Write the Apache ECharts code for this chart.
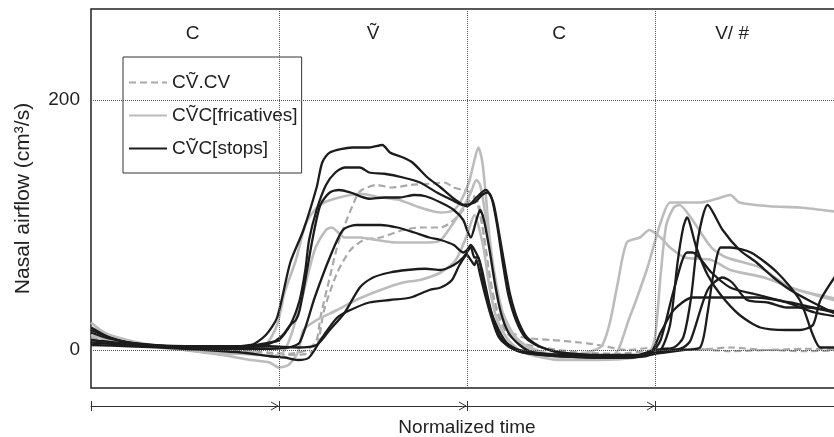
<!DOCTYPE html>
<html><head><meta charset="utf-8">
<script src="https://cdn.jsdelivr.net/npm/echarts@6/dist/echarts.min.js"></script>
<style>html,body{margin:0;padding:0;background:#fff}#c{width:834px;height:437px}</style>
</head><body><div id="c"></div>
<script>
// ---- labels / ticks ----
const segmentLabels = ['C', 'Ṽ', 'C', 'V/ #'];
const segmentLabelPos = [0.54, 1.5, 2.49, 3.41];
const yTickValues = [0, 200];
const boundaryTimes = [1, 2, 3];
const seriesNames = ['CṼ.CV', 'CṼC[fricatives]', 'CṼC[stops]'];

// ---- CV.CV (dashed grey) ----
const cvcvA = [[0,10],[0.1,7],[0.2,5],[0.5,2],[0.8,0],[0.95,-2],[1.05,-3],[1.15,0],[1.2,8],[1.22,26],[1.27,58],[1.32,88],[1.41,122],[1.44,128],[1.52,132],[1.6,130],[1.7,132],[1.8,133],[1.88,134],[1.93,130],[1.98,128],[2.02,126],[2.05,120],[2.08,100],[2.11,70],[2.14,44],[2.18,24],[2.24,14],[2.3,10],[2.45,8],[2.6,6],[2.7,4],[2.85,0],[3.0,2],[3.2,0],[3.4,2],[3.6,0],[3.8,1],[4.0,0]];
const cvcvB = [[0,8],[0.2,5],[0.4,3],[0.7,0],[0.9,-2],[1.05,-4],[1.15,-3],[1.2,2],[1.24,32],[1.31,62],[1.38,80],[1.45,88],[1.54,90],[1.66,96],[1.75,98],[1.86,98],[1.93,104],[1.99,114],[2.03,122],[2.06,118],[2.09,92],[2.12,58],[2.16,30],[2.21,14],[2.28,6],[2.4,2],[2.6,-2],[2.8,-3],[3.0,0],[3.2,1],[3.4,-1],[3.6,0],[3.8,-1],[4.0,0]];

// ---- CVC fricatives (solid light grey) ----
const fricA = [[0,22],[0.05,16],[0.15,8],[0.3,3],[0.5,0],[0.7,-3],[0.85,-2],[0.93,4],[0.99,20],[1.03,46],[1.09,72],[1.14,100],[1.19,112],[1.24,118],[1.32,122],[1.43,125],[1.54,122],[1.64,120],[1.75,114],[1.86,110],[1.93,112],[1.97,120],[2.01,134],[2.04,152],[2.06,162],[2.08,152],[2.1,124],[2.12,90],[2.15,58],[2.19,30],[2.25,12],[2.32,3],[2.45,-3],[2.6,-3],[2.68,0],[2.72,4],[2.76,22],[2.8,52],[2.85,86],[2.92,90],[2.97,96],[3.03,90],[3.08,82],[3.16,74],[3.3,72],[3.4,64],[3.58,58],[3.76,48],[4.0,38]];
const fricB = [[0,12],[0.15,6],[0.4,2],[0.7,-2],[0.9,-4],[0.97,-5],[1.02,-2],[1.06,10],[1.12,40],[1.19,80],[1.25,96],[1.28,98],[1.35,90],[1.43,90],[1.52,88],[1.62,86],[1.72,86],[1.8,86],[1.86,88],[1.92,100],[1.98,114],[2.02,126],[2.05,136],[2.07,132],[2.1,106],[2.13,72],[2.16,44],[2.2,22],[2.26,8],[2.34,0],[2.5,-6],[2.7,-6],[2.78,-4],[2.81,2],[2.86,24],[2.9,40],[2.96,66],[3.03,102],[3.08,118],[3.13,118],[3.24,118],[3.33,121],[3.4,124],[3.45,118],[3.61,115],[3.77,114],[4.0,110]];
const fricC = [[0,18],[0.1,12],[0.25,6],[0.5,0],[0.7,-4],[0.85,-8],[0.95,-10],[1.0,-14],[1.05,-12],[1.1,-2],[1.13,16],[1.2,24],[1.31,32],[1.41,40],[1.54,48],[1.66,54],[1.75,56],[1.86,62],[1.94,72],[2.0,92],[2.04,108],[2.06,100],[2.09,80],[2.12,50],[2.16,24],[2.22,8],[2.3,-2],[2.5,-8],[2.7,-8],[2.9,-6],[2.97,-2],[3.0,10],[3.03,60],[3.06,100],[3.1,114],[3.13,116],[3.19,106],[3.3,82],[3.38,74],[3.56,66],[3.72,50],[4.0,40]];

// ---- CVC stops (black) ----
const stopsA = [[0,14],[0.1,9],[0.3,4],[0.6,2],[0.85,4],[0.93,12],[0.99,26],[1.06,70],[1.13,96],[1.2,130],[1.23,150],[1.27,158],[1.39,162],[1.48,162],[1.55,164],[1.59,158],[1.66,154],[1.71,150],[1.79,138],[1.86,130],[1.94,120],[2.0,115],[2.05,122],[2.1,128],[2.13,122],[2.16,100],[2.19,70],[2.22,44],[2.26,24],[2.31,10],[2.38,3],[2.5,-2],[2.7,-4],[2.9,-4],[3.0,0],[3.1,2],[3.15,10],[3.19,40],[3.23,90],[3.28,116],[3.36,96],[3.45,80],[3.54,70],[3.63,58],[3.72,48],[3.84,38],[4.0,26]];
const stopsB = [[0,18],[0.1,10],[0.25,5],[0.5,3],[0.8,3],[0.95,6],[1.0,8],[1.06,20],[1.11,40],[1.14,64],[1.16,88],[1.2,112],[1.25,132],[1.3,142],[1.35,146],[1.43,146],[1.48,142],[1.56,141],[1.66,138],[1.75,134],[1.84,126],[1.92,120],[1.98,116],[2.04,118],[2.08,124],[2.11,126],[2.14,118],[2.17,94],[2.2,68],[2.23,44],[2.27,24],[2.32,10],[2.4,2],[2.55,-4],[2.75,-5],[2.9,-5],[2.98,-2],[3.03,8],[3.1,48],[3.17,78],[3.2,78],[3.3,62],[3.4,50],[3.55,44],[3.7,38],[3.85,30],[4.0,26]];
const stopsC = [[0,8],[0.2,5],[0.5,2],[0.8,2],[0.95,5],[1.02,12],[1.06,20],[1.09,24],[1.11,32],[1.14,56],[1.18,90],[1.22,116],[1.27,126],[1.32,128],[1.38,126],[1.48,121],[1.56,122],[1.64,122],[1.72,124],[1.78,123],[1.86,118],[1.93,112],[1.98,104],[2.0,96],[2.02,90],[2.05,104],[2.07,112],[2.09,104],[2.12,80],[2.15,52],[2.18,30],[2.22,14],[2.28,4],[2.35,-2],[2.5,-4],[2.7,-6],[2.88,-6],[2.96,-4],[3.05,-2],[3.15,0],[3.24,2],[3.28,30],[3.31,60],[3.35,82],[3.4,82],[3.51,78],[3.65,62],[3.77,40],[3.84,12],[3.88,2],[4.0,2]];
const stopsD = [[0,6],[0.3,3],[0.6,1],[0.9,1],[1.05,2],[1.11,6],[1.19,42],[1.27,74],[1.34,96],[1.41,100],[1.54,100],[1.63,98],[1.72,94],[1.8,90],[1.86,88],[1.93,84],[1.98,78],[2.0,80],[2.02,84],[2.04,80],[2.06,74],[2.08,64],[2.1,50],[2.13,30],[2.17,12],[2.22,3],[2.3,-2],[2.5,-5],[2.75,-6],[2.95,-5],[3.0,-2],[3.1,0],[3.15,2],[3.19,8],[3.28,48],[3.36,58],[3.41,54],[3.49,40],[3.6,38],[3.7,34],[3.81,34],[4.0,28]];
const stopsE = [[0,16],[0.1,10],[0.2,6],[0.4,3],[0.7,2],[0.95,3],[1.1,2],[1.2,4],[1.27,16],[1.35,30],[1.43,50],[1.5,58],[1.59,62],[1.68,64],[1.78,65],[1.86,64],[1.93,68],[1.98,74],[2.02,82],[2.04,74],[2.06,74],[2.08,60],[2.11,40],[2.15,22],[2.21,6],[2.28,0],[2.5,-4],[2.8,-5],[2.97,-3],[3.03,14],[3.1,32],[3.2,42],[3.36,42],[3.54,42],[3.72,38],[3.84,34],[4.0,30]];
const stopsF = [[0,4],[0.2,3],[0.5,1],[0.8,-2],[0.95,-5],[1.03,-6],[1.1,-8],[1.16,-6],[1.23,10],[1.31,26],[1.38,32],[1.48,38],[1.59,40],[1.7,42],[1.8,48],[1.86,50],[1.92,56],[1.96,68],[2.0,76],[2.02,72],[2.04,68],[2.05,72],[2.07,60],[2.1,42],[2.13,26],[2.17,10],[2.23,2],[2.3,-2],[2.5,-5],[2.8,-6],[2.97,-4],[3.03,0],[3.08,20],[3.12,70],[3.15,98],[3.17,106],[3.22,82],[3.28,60],[3.35,44],[3.45,28],[3.56,18],[3.7,16],[3.77,16],[3.84,20],[3.88,40],[4.0,68]];

const Y_MIN = -30.4, Y_MAX = 272.8;
const FONT = "'Liberation Sans', Arial, Helvetica, sans-serif";
const TXT = '#222';

const dashStyle = {color: '#a9a9a9', width: 2.2, type: [7, 4]};
const fricStyle = {color: '#bcbcbc', width: 2.6, type: 'solid'};
const stopStyle = {color: '#1c1c1c', width: 2.3, type: 'solid'};

function mk(name, data, style) {
  return {
    type: 'line', name: name, data: data, xAxisIndex: 0, yAxisIndex: 0,
    symbol: 'none', showSymbol: false, smooth: 0.25,
    lineStyle: style, itemStyle: {color: style.color},
    emphasis: {disabled: true}, z: 2, silent: true
  };
}

const series = [
  {
    type: 'line', name: 'grid', data: [[0, 0]], symbol: 'none', z: 1, silent: true,
    lineStyle: {opacity: 0},
    markLine: {
      silent: true, symbol: ['none', 'none'], label: {show: false},
      lineStyle: {type: 'dotted', color: '#555', width: 1},
      emphasis: {disabled: true},
      data: yTickValues.map(v => ({yAxis: v})).concat(boundaryTimes.map(t => ({xAxis: t})))
    }
  },
  mk(seriesNames[0], cvcvA, dashStyle),
  mk(seriesNames[0], cvcvB, dashStyle),
  mk(seriesNames[1], fricA, fricStyle),
  mk(seriesNames[1], fricB, fricStyle),
  mk(seriesNames[1], fricC, fricStyle),
  mk(seriesNames[2], stopsA, stopStyle),
  mk(seriesNames[2], stopsB, stopStyle),
  mk(seriesNames[2], stopsC, stopStyle),
  mk(seriesNames[2], stopsD, stopStyle),
  mk(seriesNames[2], stopsE, stopStyle),
  mk(seriesNames[2], stopsF, stopStyle)
];

const option = {
  animation: false,
  backgroundColor: '#fff',
  textStyle: {fontFamily: FONT},
  grid: {left: 91, top: 9, width: 752, height: 379, outerBoundsMode: 'none', containLabel: false,
    show: true, borderColor: '#222', borderWidth: 1.5, backgroundColor: 'transparent'},
  legend: {
    data: seriesNames, orient: 'vertical', left: 123, top: 57,
    itemWidth: 38, itemHeight: 14, itemGap: 14,
    padding: [16, 4, 15, 5],
    backgroundColor: '#fff', borderColor: '#333', borderWidth: 1,
    selectedMode: false,
    itemStyle: {opacity: 0},
    textStyle: {fontSize: 19, color: TXT, fontFamily: FONT}
  },
  xAxis: [
    {type: 'value', min: 0, max: 4, position: 'bottom', axisLine: {show: false}, axisTick: {show: false}, axisLabel: {show: false}, splitLine: {show: false}},
    {type: 'value', min: 0, max: 4, position: 'top', axisLine: {show: false}, axisTick: {show: false}, splitLine: {show: false},
      axisLabel: {inside: true, margin: 15, customValues: segmentLabelPos, fontSize: 19, color: TXT, fontFamily: FONT,
        formatter: function (v) { const i = segmentLabelPos.indexOf(v); return i >= 0 ? segmentLabels[i] : ''; }}},
    {type: 'value', min: 0, max: 4, interval: 1, position: 'bottom', offset: 18,
      axisLine: {show: true, lineStyle: {color: '#333', width: 1}},
      axisTick: {show: true, length: 5, lineStyle: {color: '#333', width: 1}},
      axisLabel: {show: false}, splitLine: {show: false},
      name: 'Normalized time', nameLocation: 'middle', nameGap: 12,
      nameTextStyle: {fontSize: 19, color: TXT, fontFamily: FONT}},
    {type: 'value', min: 0, max: 4, interval: 1, position: 'bottom', offset: 18,
      axisLine: {show: false},
      axisTick: {show: true, inside: true, length: 5, lineStyle: {color: '#333', width: 1}},
      axisLabel: {show: false}, splitLine: {show: false}}
  ],
  yAxis: {
    type: 'value', min: Y_MIN, max: Y_MAX,
    axisLine: {show: false}, axisTick: {show: false}, splitLine: {show: false},
    axisLabel: {customValues: yTickValues, fontSize: 19, color: TXT, margin: 11, fontFamily: FONT},
    name: 'Nasal airflow (cm³/s)', nameLocation: 'middle', nameGap: 57,
    nameTextStyle: {fontSize: 21, color: TXT, fontFamily: FONT}
  },
  series: series
};

const chart = echarts.init(document.getElementById('c'), null, {renderer: 'canvas', width: 834, height: 437});
chart.setOption(option);

// arrowheads on the time line, positioned through the axis scale
const yBase = chart.convertToPixel({yAxisIndex: 0}, Y_MIN) + 18;
const arrows = boundaryTimes.map(function (t) {
  const px = chart.convertToPixel({xAxisIndex: 0}, t);
  return {type: 'polyline', silent: true, z: 10,
    shape: {points: [[px - 8, yBase - 4], [px - 1, yBase], [px - 8, yBase + 4]]},
    style: {stroke: '#333', fill: null, lineWidth: 1}};
});
chart.setOption({graphic: arrows});
</script>
</body></html>
